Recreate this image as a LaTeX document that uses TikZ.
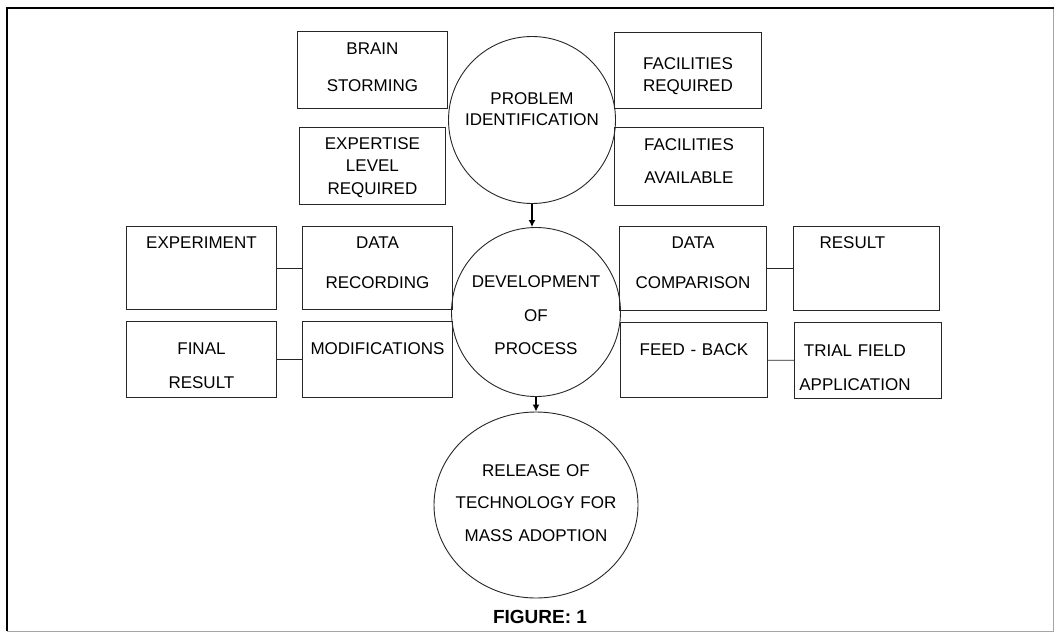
\documentclass[tikz,border=0pt]{standalone}
\usepackage{fontspec}
\setmainfont{Liberation Sans}
\usetikzlibrary{shapes.geometric,arrows.meta}

\begin{document}
\begin{tikzpicture}[x=1pt,y=-1pt]
	\tikzstyle{bx}=[draw=black!85, rectangle, inner sep=0pt, align=center, line width=0.9pt, anchor=north west, font=\fontsize{17}{20}\selectfont]
	\tikzstyle{rnd}=[draw=black!85, circle, inner sep=0pt, align=center, text width=140pt, line width=0.9pt, font=\fontsize{17}{20}\selectfont]
	\tikzstyle{oval}=[draw=black!85, ellipse, inner ysep=0pt, inner xsep=-15pt, align=center, text width=170pt, line width=0.9pt, font=\fontsize{17}{20}\selectfont]
	\tikzstyle{link}=[draw=black!85, line width=0.8pt]
	\tikzstyle{flow}=[line width=1.4pt, -{Latex[length=7pt,width=7pt]}]

	\useasboundingbox (0,0) rectangle (1054,632);

	% frame
	\draw[line width=0.7pt, black!35] (1053,8) -- (1053,631) -- (7,631);
	\draw[line width=1.6pt] (1054,8) -- (7,8) -- (7,631);

	% the three stages
	\node[rnd, minimum size=167pt, text height=10pt, text depth=42pt] (prob) at (532,120) {PROBLEM\\[1pt]IDENTIFICATION};
	\node[rnd, minimum size=169pt, text height=10pt, text depth=59pt] (devel) at (536,312) {DEVELOPMENT\\[13.5pt]OF\\[13.5pt]PROCESS};
	\node[oval, minimum width=204pt, minimum height=186pt, text height=10pt, text depth=68pt] (release) at (536,505) {RELEASE OF\\[12.5pt]TECHNOLOGY FOR\\[12.5pt]MASS ADOPTION};

	% boxes round problem identification
	\node[bx, text width=150pt, text height=23pt, text depth=54pt] (brain) at (297,31) {BRAIN\\[17pt]STORMING};
	\node[bx, text width=146pt, text height=22pt, text depth=55pt] (expert) at (299,127) {EXPERTISE\\[2.5pt]LEVEL\\[2.5pt]REQUIRED};
	\node[bx, text width=147pt, text height=37pt, text depth=39pt] (facreq) at (614,32) {FACILITIES\\[2pt]REQUIRED};
	\node[bx, text width=149pt, text height=23pt, text depth=55pt] (facav) at (614,127) {FACILITIES\\[13pt]AVAILABLE};

	% boxes round development of process
	\node[bx, text width=150pt, text height=22pt, text depth=61pt] (exper) at (126,226) {EXPERIMENT};
	\node[bx, text width=150pt, text height=22pt, text depth=61pt] (record) at (302,226) {DATA\\[20pt]RECORDING};
	\node[bx, text width=150pt, text height=33pt, text depth=43pt] (final) at (126,321) {FINAL\\[14pt]RESULT};
	\node[bx, text width=150pt, text height=33pt, text depth=43pt] (modif) at (302,321) {MODIFICATIONS};
	\node[bx, text width=147pt, text height=22pt, text depth=62pt] (compar) at (619,226) {DATA\\[20pt]COMPARISON};
	\node[bx, text width=146pt, text height=22pt, text depth=62pt] (result) at (793,226) {RESULT\hspace{28pt}\mbox{}};
	\node[bx, text width=147pt, text height=33pt, text depth=42pt] (feed) at (620,322) {FEED - BACK};
	\node[bx, text width=147pt, text height=34pt, text depth=42pt] (trial) at (794,322) {TRIAL FIELD\hspace{26pt}\mbox{}\\[14pt]APPLICATION\hspace{26pt}\mbox{}};

	\node[font=\fontsize{19}{22}\selectfont\bfseries] (fig) at (540,617) {FIGURE: 1};

	\foreach \from/\to in {exper/record,final/modif,compar/result,feed/trial}
	\draw[link] (\from) -- (\to);

	\foreach \from/\to in {prob/devel,devel/release}
	\draw[flow] (\from.south) -- (\from.south |- \to.north);
\end{tikzpicture}
\end{document}
